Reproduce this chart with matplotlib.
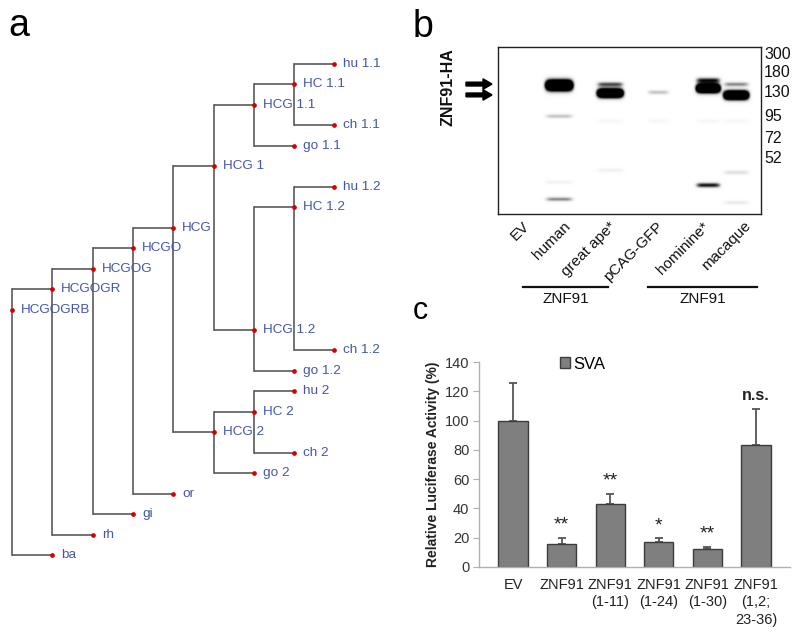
import numpy as np
import matplotlib
matplotlib.use("Agg")
import matplotlib.pyplot as plt
from matplotlib.patches import FancyArrow

plt.rcParams['font.family'] = ['Liberation Sans', 'DejaVu Sans']

# ---------------- data ----------------
# panel a: tree nodes, listed top-to-bottom, with their parent node
tree_nodes = ["hu 1.1", "HC 1.1", "HCG 1.1", "ch 1.1", "go 1.1", "HCG 1", "hu 1.2", "HC 1.2",
              "HCG", "HCGO", "HCGOG", "HCGOGR", "HCGOGRB", "HCG 1.2", "ch 1.2", "go 1.2",
              "hu 2", "HC 2", "HCG 2", "ch 2", "go 2", "or", "gi", "rh", "ba"]
tree_parents = ["HC 1.1", "HCG 1.1", "HCG 1", "HC 1.1", "HCG 1.1", "HCG", "HC 1.2", "HCG 1.2",
                "HCGO", "HCGOG", "HCGOGR", "HCGOGRB", None, "HCG 1", "HC 1.2", "HCG 1.2",
                "HC 2", "HCG 2", "HCG", "HC 2", "HCG 2", "HCGO", "HCGOG", "HCGOGR", "HCGOGRB"]

# panel b: western blot
lanes = ["EV", "human", "great ape*", "pCAG-GFP", "hominine*", "macaque"]
mw_markers = ["300", "180", "130", "95", "72", "52"]
mw_migration = [0.042, 0.150, 0.275, 0.419, 0.545, 0.665]   # fraction of gel height
band_lane = [1, 2, 2, 3, 4, 4, 5, 5, 1, 1, 1, 4, 5, 5, 2, 2, 3, 4, 5]
band_migration = [0.228, 0.222, 0.275, 0.270, 0.198, 0.246, 0.222, 0.287,
                  0.413, 0.910, 0.808, 0.826, 0.750, 0.930, 0.737, 0.443, 0.443, 0.443, 0.443]
band_intensity = [3.2, 0.75, 3.0, 0.35, 0.9, 3.0, 0.55, 3.0,
                  0.35, 0.55, 0.12, 0.95, 0.22, 0.16, 0.12, 0.07, 0.07, 0.07, 0.07]
band_sigma = [3.6, 1.7, 3.0, 1.5, 1.9, 3.0, 1.6, 3.0,
              1.5, 1.5, 1.3, 1.7, 1.5, 1.4, 1.4, 1.6, 1.6, 1.6, 1.6]
group_labels = ["ZNF91", "ZNF91"]
arrow_migration = [0.222, 0.287]

# panel c: luciferase assay
conditions = ["EV", "ZNF91", "ZNF91\n(1-11)", "ZNF91\n(1-24)", "ZNF91\n(1-30)", "ZNF91\n(1,2;\n23-36)"]
activity = [100, 16, 43, 17, 12.5, 83]
activity_err = [26, 4, 7, 2.5, 1.2, 25]
significance = ["", "**", "**", "*", "**", "n.s."]
series_name = "SVA"

# ---------------- layout ----------------
W, H = 800, 632
fig = plt.figure(figsize=(W / 100, H / 100), dpi=100)
fig.patch.set_facecolor("white")


def px_axes(x0, y0, x1, y1):
    return fig.add_axes([x0 / W, 1 - y1 / H, (x1 - x0) / W, (y1 - y0) / H])


# ---------------- panel a ----------------
TX0, TDX, TY0, TDY = 12, 40.3, 64, 20.46
axa = px_axes(0, 0, 400, 632)
axa.set_xlim(-TX0 / TDX, (400 - TX0) / TDX)
axa.set_ylim((632 - TY0) / TDY, -TY0 / TDY)
axa.axis("off")

parent_of = dict(zip(tree_nodes, tree_parents))
row_of = {n: i for i, n in enumerate(tree_nodes)}


def depth(n):
    p = parent_of[n]
    return 0 if p is None else depth(p) + 1


depth_of = {n: depth(n) for n in tree_nodes}
line_c = "#5a5a5a"
for n in tree_nodes:
    p = parent_of[n]
    if p is not None:
        axa.plot([depth_of[p], depth_of[n]], [row_of[n], row_of[n]], color=line_c, lw=1.2,
                 solid_capstyle="butt", zorder=1)
for n in tree_nodes:
    kids = [c for c in tree_nodes if parent_of[c] == n]
    if kids:
        rs = [row_of[c] for c in kids]
        axa.plot([depth_of[n], depth_of[n]], [min(rs), max(rs)], color=line_c, lw=1.2, zorder=1)
axa.plot([depth_of[n] for n in tree_nodes], [row_of[n] for n in tree_nodes], "o",
         color="#d40000", ms=3.4, mec="none", zorder=3)
for n in tree_nodes:
    axa.annotate(n, (depth_of[n], row_of[n]), xytext=(6.5, 0), textcoords="offset points",
                 ha="left", va="center", fontsize=9.7, color="#4556ad", zorder=2)

# ---------------- panel b ----------------
BX0, BY0, BX1, BY1 = 498, 47, 761, 214
bw, bh = BX1 - BX0, BY1 - BY0
axb = px_axes(BX0, BY0, BX1, BY1)
LANE_X = [15, 61, 112, 160, 210, 238]
LANE_HW = [12, 13.5, 13, 10.5, 12, 12.5]
LABEL_X = [24, 65, 111, 158, 204, 246]

xs = np.arange(0, bw, 0.5)
ys = np.arange(0, bh, 0.5)
X, Y = np.meshgrid(xs, ys)
img = np.zeros_like(X)
for ln, mig, inten, sg in zip(band_lane, band_migration, band_intensity, band_sigma):
    cx, hw = LANE_X[ln], LANE_HW[ln]
    img += inten * np.exp(-np.abs((X - cx) / hw) ** 6) * np.exp(-0.5 * ((Y - mig * bh) / sg) ** 2)
axb.imshow(img, extent=(0, bw, bh, 0), cmap="Greys", vmin=0, vmax=1,
           interpolation="bilinear", aspect="auto")
axb.set_xlim(0, bw)
axb.set_ylim(bh, 0)
axb.set_xticks([])
axb.set_yticks([])
for s in axb.spines.values():
    s.set_color("#222222")
    s.set_linewidth(1.0)

for lab, mig in zip(mw_markers, mw_migration):
    axb.text(bw + 3, mig * bh, lab, ha="left", va="center", fontsize=11.5, color="#111", clip_on=False)

for lab, lx in zip(lanes, LABEL_X):
    axb.text(lx, bh + 5, lab, rotation=45, ha="right", va="top", rotation_mode="anchor",
             fontsize=11, color="#111", clip_on=False)

GROUP_SPANS = [(25, 110), (150, 259)]
for lab, (g0, g1) in zip(group_labels, GROUP_SPANS):
    axb.plot([g0, g1], [240, 240], color="#111", lw=1.6, clip_on=False)
    axb.text((g0 + g1) / 2, 245, lab, ha="center", va="top", fontsize=11, color="#111", clip_on=False)

for mig in arrow_migration:
    axb.add_patch(FancyArrow(-32, mig * bh, 26, 0, width=3.8, head_width=10.5, head_length=9,
                             length_includes_head=True, color="black", clip_on=False))
axb.text(-50, 40, "ZNF91-HA", rotation=90, ha="center", va="center", fontsize=11.5,
         fontweight="bold", color="#111", clip_on=False)

# ---------------- panel c ----------------
axc = px_axes(479, 362, 790, 567)
x = np.arange(len(conditions))
axc.bar(x, activity, width=0.6, color="#7f7f7f", edgecolor="#3c3c3c", linewidth=1.0,
        label=series_name, zorder=2)
axc.errorbar(x, activity, yerr=[np.zeros(len(x)), activity_err], fmt="none", ecolor="#555555",
             elinewidth=1.3, capsize=3, capthick=1.3, zorder=1)
axc.set_xlim(-0.7, 5.7)
axc.set_ylim(0, 140)
axc.set_yticks(np.arange(0, 141, 20))
for side in ["top", "right"]:
    axc.spines[side].set_visible(False)
for side in ["left", "bottom"]:
    axc.spines[side].set_color("#b0b0b0")
    axc.spines[side].set_linewidth(1.0)
axc.tick_params(axis="y", length=4, color="#b0b0b0", labelsize=10.5, labelcolor="#333", pad=3)
axc.set_xticks(x)
axc.set_xticklabels(conditions, fontsize=10.5, color="#222", linespacing=1.3)
axc.tick_params(axis="x", length=0, pad=8)
axc.set_ylabel("Relative Luciferase Activity (%)", fontsize=10, fontweight="bold", color="#222")
axc.yaxis.set_label_coords(-0.125, 0.5)
for xi, a, e, s in zip(x, activity, activity_err, significance):
    if s == "n.s.":
        axc.text(xi, a + e + 6, s, ha="center", va="baseline", fontsize=11.5, color="#222",
                 fontweight="bold")
    elif s:
        axc.text(xi, a + e + 5.5, s, ha="center", va="baseline", fontsize=14, color="#222")
axc.legend(loc="center left", bbox_to_anchor=(0.262, 0.99), frameon=False, handlelength=0.6,
           handleheight=0.6, handletextpad=0.15, fontsize=12, borderpad=0, borderaxespad=0)

# ---------------- panel letters ----------------
fig.text(8 / W, 1 - 36 / H, "a", fontsize=27, va="baseline", ha="left")
fig.text(413 / W, 1 - 37 / H, "b", fontsize=27, va="baseline", ha="left")
fig.text(413 / W, 1 - 319 / H, "c", fontsize=22, va="baseline", ha="left")

fig.savefig("out.png", dpi=100, facecolor="white")
